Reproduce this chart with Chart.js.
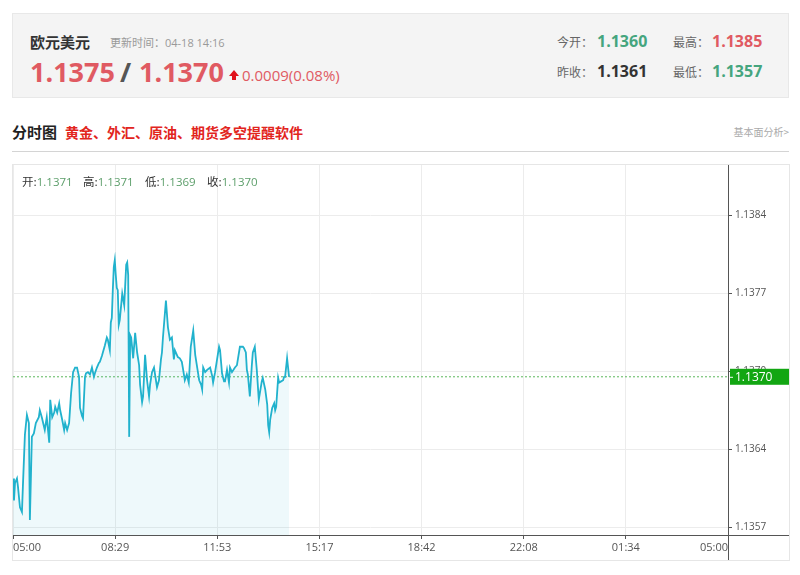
<!DOCTYPE html>
<html>
<head>
<meta charset="utf-8">
<script src="https://cdn.jsdelivr.net/npm/chart.js@4.4.1/dist/chart.umd.min.js"></script>
<style>
body{margin:0;background:#fff;width:800px;height:575px;position:relative;overflow:hidden;font-family:"Noto Sans CJK SC","Open Sans",Arial,sans-serif}
.a{position:absolute;white-space:nowrap;line-height:1}
.num{font-family:"Open Sans",Arial,sans-serif}
.red{color:#e05a62}
.green{color:#45a57e}
.lbl{font-size:12px;color:#666}
.big{font-size:16px;font-weight:bold}
.ohlc{font-size:11.5px;color:#333;top:176px}
.ohlc span{color:#5c9e6a}
</style>
</head>
<body>
<div class="a" style="left:12px;top:13px;width:777px;height:85px;background:#f4f4f4;border:1px solid #e8e8e8;box-sizing:border-box"></div>
<div class="a" style="left:30px;top:34px;font-size:15px;font-weight:bold;color:#333">欧元美元</div>
<div class="a" style="left:110px;top:37px;font-size:11px;color:#999">更新时间：<span class="num">04-18 14:16</span></div>
<div class="a num red" style="left:30px;top:58px;font-size:27px;font-weight:bold">1.1375</div>
<div class="a num" style="left:120px;top:58px;font-size:27px;font-weight:bold;color:#555">/</div>
<div class="a num red" style="left:139px;top:58px;font-size:27px;font-weight:bold">1.1370</div>
<div class="a" style="left:229px;top:70px;width:0;height:0;border-left:5px solid transparent;border-right:5px solid transparent;border-bottom:6px solid #e0121b"></div>
<div class="a" style="left:232px;top:75px;width:4px;height:5px;background:#e0121b"></div>
<div class="a num red" style="left:242px;top:68px;font-size:15px">0.0009(0.08%)</div>

<div class="a lbl" style="left:557px;top:36px">今开：</div>
<div class="a num big green" style="left:597px;top:33px">1.1360</div>
<div class="a lbl" style="left:673px;top:36px">最高：</div>
<div class="a num big red" style="left:712px;top:33px">1.1385</div>
<div class="a lbl" style="left:557px;top:66px">昨收：</div>
<div class="a num big" style="left:597px;top:63px;color:#333">1.1361</div>
<div class="a lbl" style="left:673px;top:66px">最低：</div>
<div class="a num big green" style="left:712px;top:63px">1.1357</div>

<div class="a" style="left:12px;top:124px;font-size:15px;font-weight:bold;color:#222">分时图</div>
<div class="a" style="left:65px;top:125px;font-size:14px;font-weight:bold;color:#e2251d">黄金、外汇、原油、期货多空提醒软件</div>
<div class="a" style="right:11px;top:127px;font-size:10px;color:#aaa">基本面分析&gt;</div>
<div class="a" style="left:12px;top:151px;width:777px;height:1px;background:#d4d4d4"></div>

<div class="a" style="left:12px;top:164px;width:778px;height:397px">
  <canvas id="chart" width="778" height="397"></canvas>
</div>
<div class="a" style="left:12px;top:164px;width:778px;height:397px;border:1px solid #e6e6e6;box-sizing:border-box;pointer-events:none"></div>
<div class="a ohlc" style="left:22px">开:<span class="num">1.1371</span></div>
<div class="a ohlc" style="left:83px">高:<span class="num">1.1371</span></div>
<div class="a ohlc" style="left:145px">低:<span class="num">1.1369</span></div>
<div class="a ohlc" style="left:207px">收:<span class="num">1.1370</span></div>

<script>
// minutes after 05:00, price
var minutes = [0,2,4,8,10,14,18,20,24,28,32,34,38,42,46,52,54,58,64,68,73,75,79,83,85,89,93,95,99,103,105,109,113,117,121,125,129,133,135,139,141,145,147,151,155,159,163,165,169,173,175,179,181,185,189,191,195,197,199,201,203,205,207,209,211,213,215,220,224,228,230,232,234,236,238,242,246,250,254,256,260,262,266,270,274,276,280,284,290,294,298,300,302,308,312,316,320,324,326,330,332,336,340,342,346,350,354,358,363,367,371,375,379,381,383,387,391,397,401,403,407,411,415,417,421,425,427,431,435,437,441,447,451,457,463,465,469,471,473,477,481,483,487,491,495,501,503,508,512,514,516,518,522,526,528,530,534,536,540,544,546,548,552,556];
var prices = [1.13612,1.13593,1.13608,1.13612,1.13605,1.13587,1.13583,1.13606,1.13650,1.13667,1.13660,1.13576,1.13648,1.13651,1.13660,1.13665,1.13671,1.13665,1.13654,1.13665,1.13643,1.13680,1.13665,1.13669,1.13674,1.13669,1.13677,1.13671,1.13663,1.13654,1.13660,1.13654,1.13660,1.13686,1.13704,1.13708,1.13708,1.13700,1.13673,1.13666,1.13664,1.13700,1.13703,1.13704,1.13702,1.13708,1.13700,1.13703,1.13708,1.13712,1.13713,1.13718,1.13721,1.13727,1.13734,1.13732,1.13723,1.13747,1.13751,1.13775,1.13795,1.13801,1.13788,1.13777,1.13775,1.13745,1.13749,1.13772,1.13762,1.13797,1.13799,1.13788,1.13648,1.13736,1.13734,1.13716,1.13738,1.13721,1.13710,1.13693,1.13678,1.13683,1.13719,1.13697,1.13683,1.13693,1.13704,1.13708,1.13691,1.13697,1.13715,1.13721,1.13734,1.13766,1.13743,1.13732,1.13734,1.13715,1.13723,1.13719,1.13717,1.13716,1.13713,1.13708,1.13697,1.13702,1.13695,1.13726,1.13740,1.13719,1.13708,1.13697,1.13693,1.13689,1.13708,1.13704,1.13706,1.13708,1.13701,1.13695,1.13704,1.13715,1.13726,1.13723,1.13703,1.13696,1.13696,1.13706,1.13695,1.13708,1.13704,1.13708,1.13710,1.13726,1.13726,1.13725,1.13721,1.13706,1.13702,1.13683,1.13710,1.13721,1.13726,1.13706,1.13680,1.13696,1.13699,1.13689,1.13676,1.13658,1.13652,1.13663,1.13673,1.13677,1.13671,1.13674,1.13699,1.13695,1.13696,1.13697,1.13700,1.13700,1.13716,1.13700];
var xTickLabels = ['05:00','08:29','11:53','15:17','18:42','22:08','01:34','05:00'];
var yTickValues = [1.1357, 1.136375, 1.13705, 1.137725, 1.1384];
var yTickLabels = ['1.1357','1.1364','1.1370','1.1377','1.1384'];
var currentPrice = 1.1370;
var totalMinutes = 1440;

var points = minutes.map(function (m, i) { return {x: m, y: prices[i]}; });

var priceTag = {
  id: 'priceTag',
  afterDraw: function (chart) {
    var c = chart.ctx, area = chart.chartArea, w = chart.width, h = chart.height;
    c.save();
    c.strokeStyle = '#555';
    c.lineWidth = 1;
    c.beginPath();
    c.moveTo(area.right + 0.5, 0);
    c.lineTo(area.right + 0.5, h);
    c.moveTo(area.right, area.bottom + 0.5);
    c.lineTo(w - 1, area.bottom + 0.5);
    c.stroke();
    var y = chart.scales.y.getPixelForValue(currentPrice);
    c.fillStyle = '#12a612';
    c.fillRect(area.right + 2, y - 8, w - area.right - 3, 16);
    c.fillStyle = '#fff';
    c.fillRect(area.right + 2, y, 3, 1);
    c.font = '12px "Open Sans", Arial, sans-serif';
    c.textBaseline = 'middle';
    c.fillText(currentPrice.toFixed(4), area.right + 7, y + 1);
    c.restore();
  }
};

var ctx = document.getElementById('chart').getContext('2d');
new Chart(ctx, {
  type: 'line',
  data: {
    datasets: [{
      data: points,
      borderColor: '#21b2cd',
      borderWidth: 1.8,
      backgroundColor: 'rgba(33,178,205,0.08)',
      fill: 'start',
      pointRadius: 0,
      tension: 0
    }, {
      data: [{x: 0, y: currentPrice}, {x: totalMinutes, y: currentPrice}],
      borderColor: '#5cb85c',
      borderWidth: 1,
      borderDash: [2, 2],
      pointRadius: 0,
      fill: false
    }]
  },
  options: {
    responsive: false,
    animation: false,
    layout: {padding: {left: 1, top: 1}},
    plugins: {legend: {display: false}, tooltip: {enabled: false}},
    scales: {
      x: {
        type: 'linear', min: 0, max: totalMinutes,
        afterBuildTicks: function (s) {
          s.ticks = xTickLabels.map(function (l, i) { return {value: i * totalMinutes / 7}; });
        },
        afterFit: function (s) { s.height = 26; s.paddingLeft = 0; s.paddingRight = 0; },
        ticks: {
          callback: function (v, i) { return xTickLabels[i]; },
          align: 'inner', autoSkip: false, maxRotation: 0,
          color: '#555', font: {size: 11, family: '"Open Sans", Arial, sans-serif'}, padding: 2
        },
        grid: {color: '#ececec', tickColor: '#555', tickLength: 4},
        border: {color: '#555'}
      },
      y: {
        position: 'right',
        min: 1.1356308, max: 1.1388327,
        afterBuildTicks: function (s) {
          s.ticks = yTickValues.map(function (v) { return {value: v}; });
        },
        afterFit: function (s) { s.width = 62; s.paddingTop = 0; s.paddingBottom = 0; },
        ticks: {
          callback: function (v, i) { return yTickLabels[i]; },
          color: '#555', font: {size: 10, family: '"Open Sans", Arial, sans-serif'}, padding: 3
        },
        grid: {color: '#ececec', tickColor: '#555', tickLength: 4},
        border: {color: '#555'}
      }
    }
  },
  plugins: [priceTag]
});
</script>
</body>
</html>
